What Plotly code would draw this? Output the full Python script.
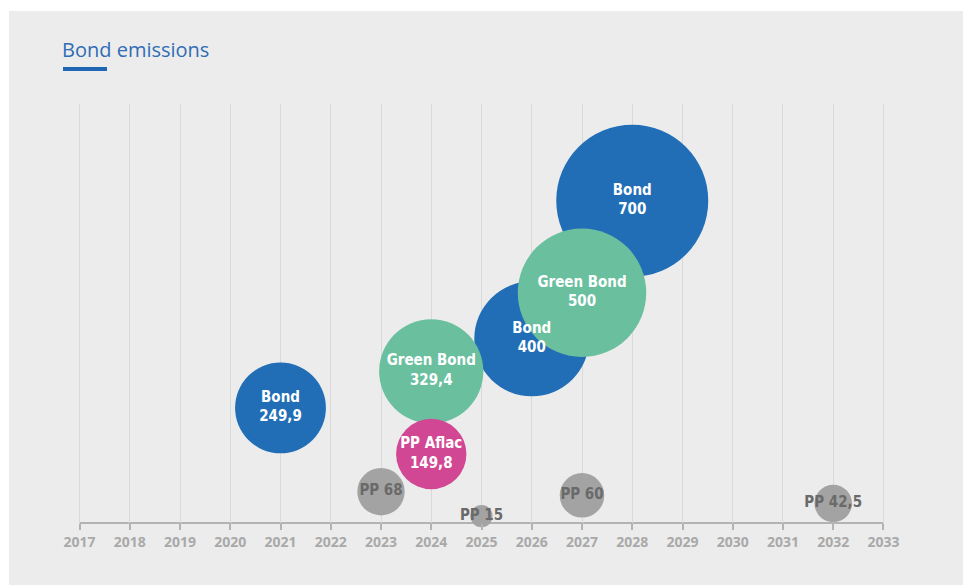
import plotly.graph_objects as go

# Bond issuances: year, instrument, amount
years = [2021, 2028, 2026, 2027, 2024, 2024, 2023, 2025, 2027, 2032]
names = ["Bond", "Bond", "Bond", "Green Bond", "Green Bond", "PP Aflac", "PP", "PP", "PP", "PP"]
amounts = [249.9, 700, 400, 500, 329.4, 149.8, 68, 15, 60, 42.5]
x_ticks = list(range(2017, 2034))

palette = {"Bond": "#216eb7", "Green Bond": "#6abf9f", "PP Aflac": "#d24794", "PP": "#a3a3a3"}
text_colors = {"Bond": "white", "Green Bond": "white", "PP Aflac": "white", "PP": "#6a6a6a"}


def fmt(v):
    s = f"{v:g}"
    return s.replace(".", ",")


labels = [f"{n}{' ' if n == 'PP' else '<br>'}{fmt(v)}" for n, v in zip(names, amounts)]

max_diam = 152
fig = go.Figure(
    go.Scatter(
        x=years,
        y=amounts,
        mode="markers+text",
        text=labels,
        textposition="middle center",
        textfont=dict(
            family="DejaVu Sans Condensed, sans-serif",
            size=15,
            color=[text_colors[n] for n in names],
            weight="bold",
        ),
        marker=dict(
            size=amounts,
            sizemode="area",
            sizeref=2 * max(amounts) / max_diam ** 2,
            color=[palette[n] for n in names],
            opacity=1,
            line=dict(width=0),
        ),
        hoverinfo="skip",
        cliponaxis=False,
    )
)

# Plot area spans roughly x 78..885 px and y 104..523 px
L, R, T, B = 78, 78, 104, 62
W, H = 963, 585
pw, ph = W - L - R, H - T - B


def px_x(p):
    return (p - L) / pw


def px_y(p):
    return (H - B - p) / ph


fig.update_layout(
    width=W,
    height=H,
    margin=dict(l=L, r=R, t=T, b=B),
    paper_bgcolor="white",
    plot_bgcolor="#ececec",
    showlegend=False,
    title=dict(
        text="Bond emissions",
        x=62 / W,
        xref="container",
        xanchor="left",
        y=1 - 50 / H,
        yref="container",
        yanchor="middle",
        font=dict(family="Open Sans", size=20, color="#2f6db5"),
    ),
    xaxis=dict(
        range=[2016.97, 2033.03],
        tickmode="array",
        tickvals=x_ticks,
        ticktext=[str(t) for t in x_ticks],
        showgrid=True,
        gridcolor="#d9d9d9",
        gridwidth=1,
        showline=False,
        ticks="outside",
        ticklen=6,
        tickwidth=1.5,
        tickcolor="#b3b3b3",
        tickfont=dict(family="Open Sans", size=14, color="#a9a9a9", weight="bold"),
        zeroline=False,
        fixedrange=True,
    ),
    yaxis=dict(
        range=[0, 910],
        visible=False,
        showgrid=False,
        zeroline=False,
        fixedrange=True,
    ),
    shapes=[
        # grey panel behind the chart
        dict(
            type="rect",
            xref="paper",
            yref="paper",
            x0=px_x(9),
            x1=px_x(963),
            y0=px_y(585),
            y1=px_y(11),
            fillcolor="#ececec",
            line=dict(width=0),
            layer="below",
        ),
        # baseline of the time axis, from the first to the last year
        dict(
            type="line",
            xref="x",
            yref="paper",
            x0=x_ticks[0],
            x1=x_ticks[-1],
            y0=0,
            y1=0,
            line=dict(color="#b3b3b3", width=2),
            layer="below",
        ),
        # accent bar under the title
        dict(
            type="rect",
            xref="paper",
            yref="paper",
            x0=px_x(63),
            x1=px_x(107),
            y0=px_y(71),
            y1=px_y(67),
            fillcolor="#1f66b5",
            line=dict(width=0),
        ),
    ],
)

fig.write_html("out.html")
